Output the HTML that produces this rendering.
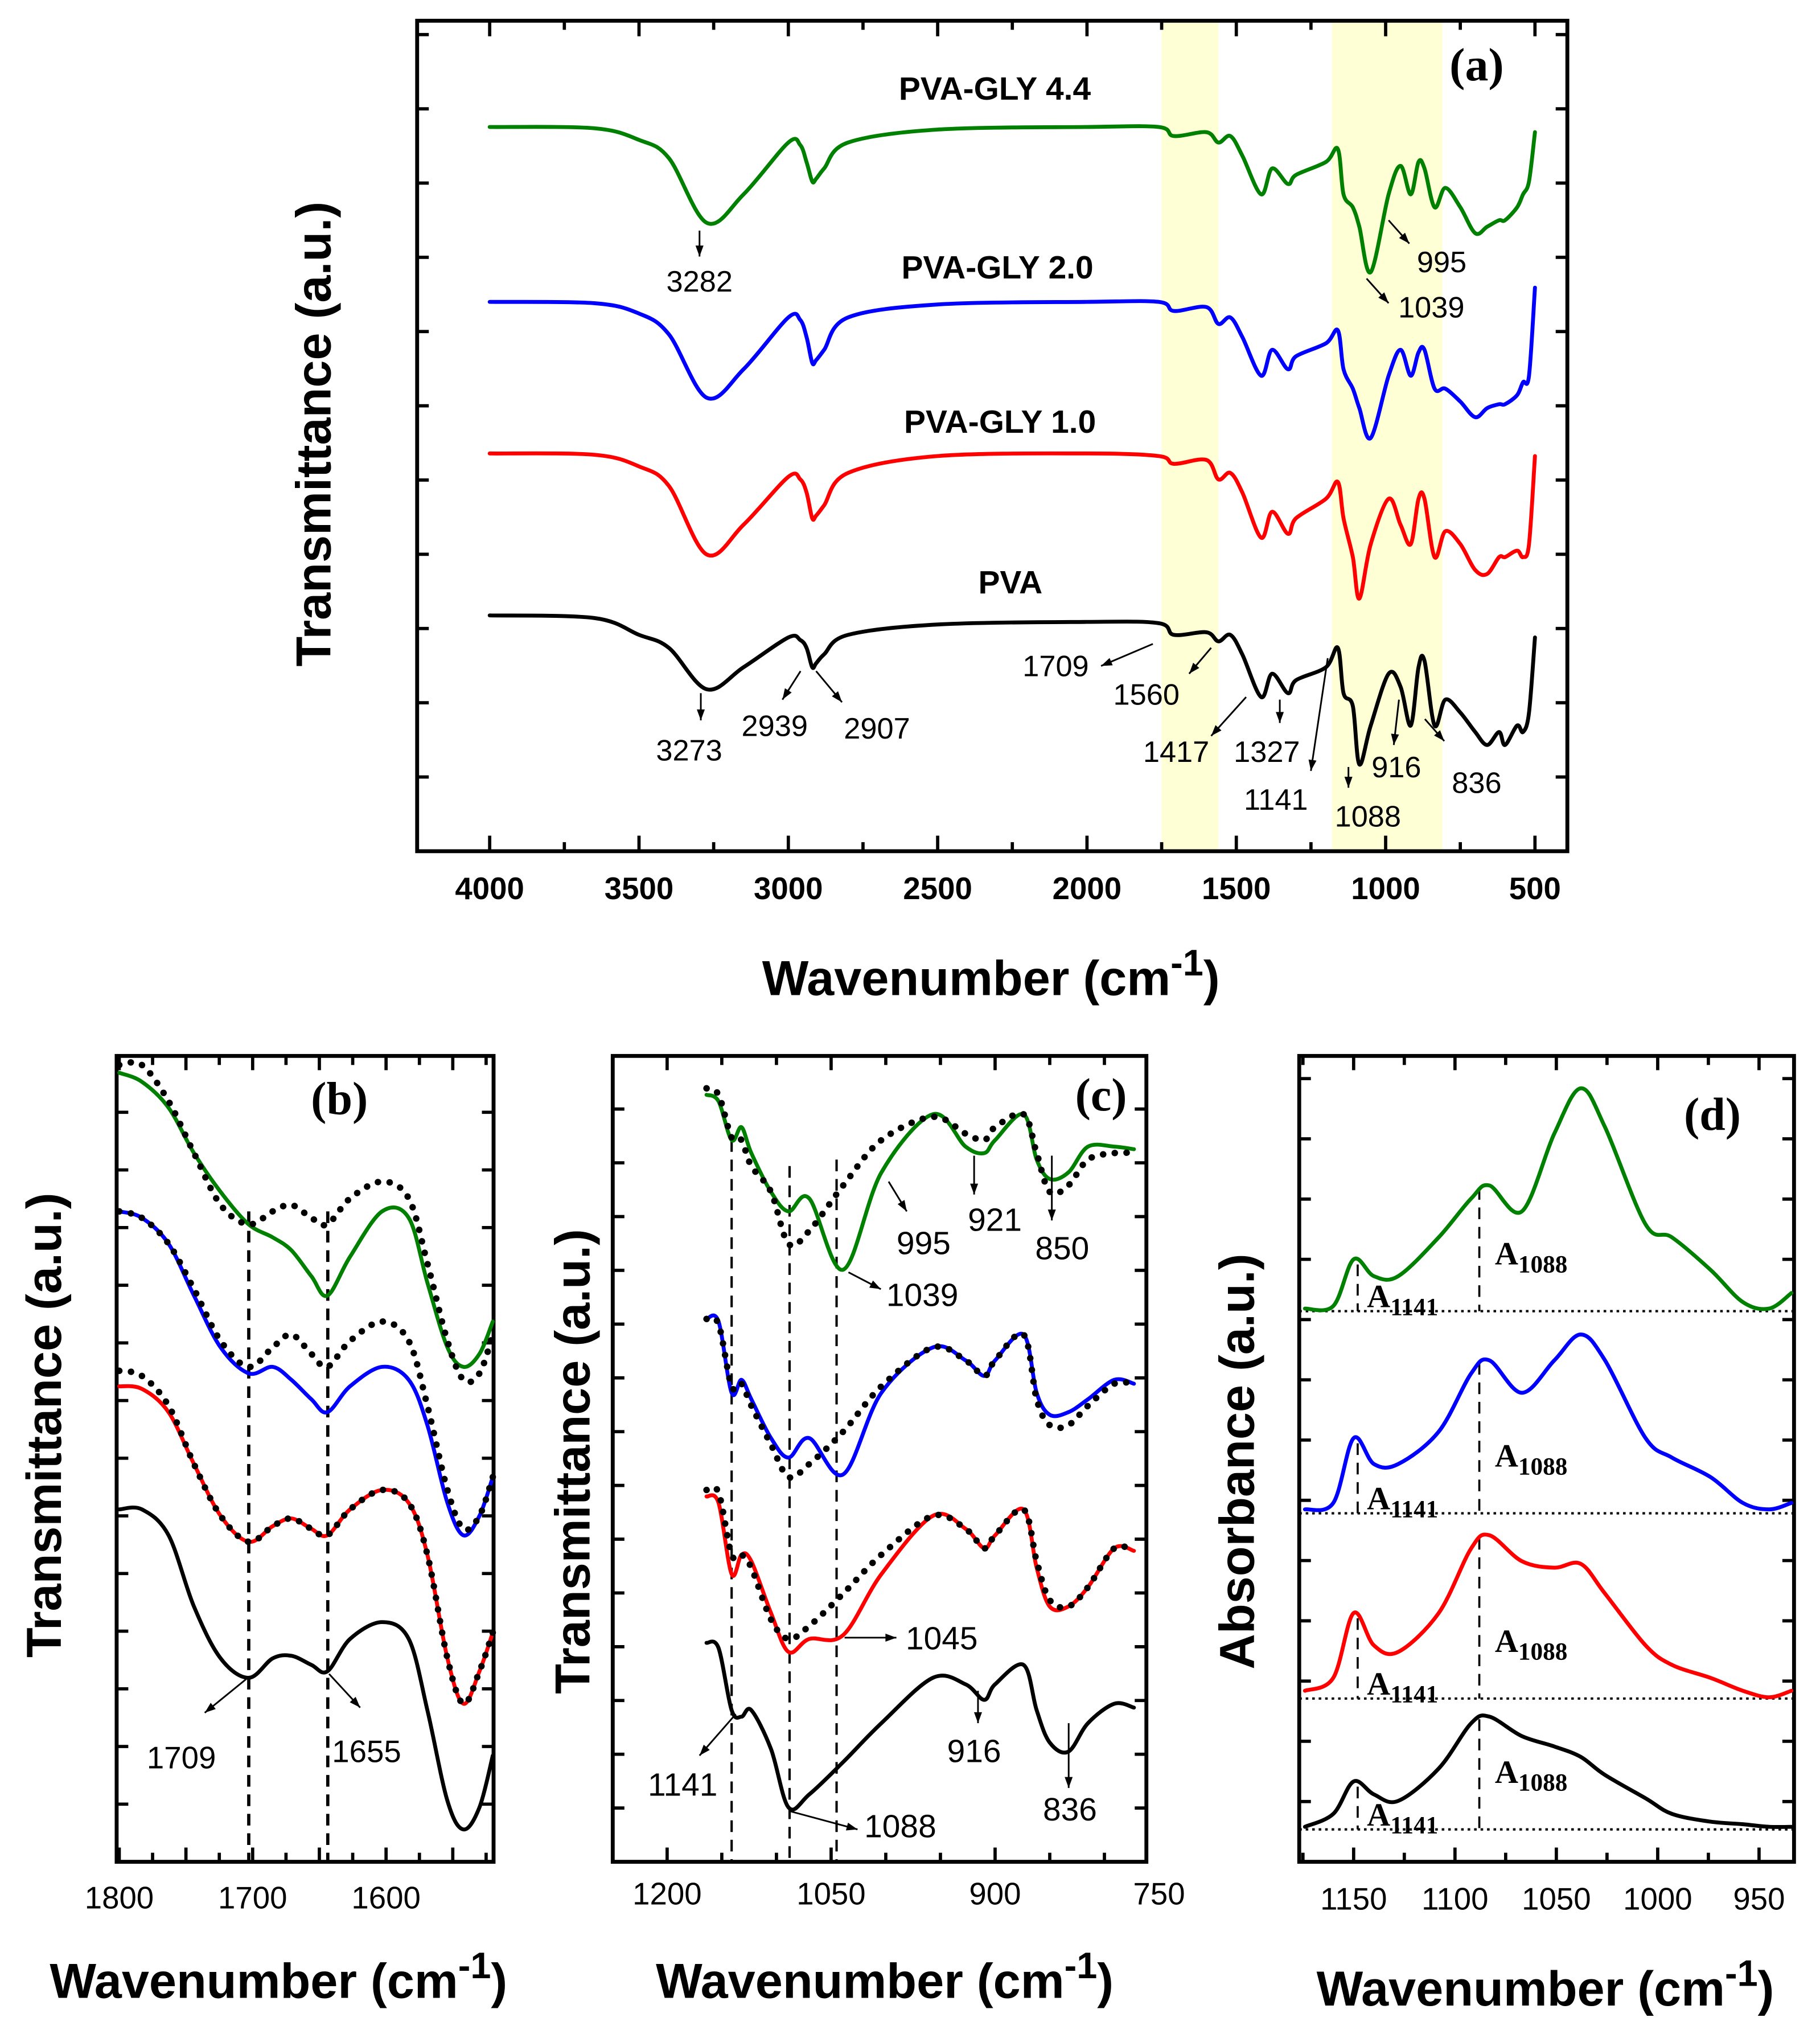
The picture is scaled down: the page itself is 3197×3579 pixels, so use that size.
<!DOCTYPE html>
<html><head><meta charset="utf-8">
<style>
html,body{margin:0;padding:0;background:#fff;}
svg{display:block;}
text{font-family:"Liberation Sans",sans-serif;}
.ser{font-family:"Liberation Serif",serif;}
</style></head>
<body>
<svg id="fig" width="3197" height="3579" viewBox="0 0 1405 1573" xmlns="http://www.w3.org/2000/svg">
<rect width="1405" height="1573" fill="#fff"/>
<g id="pa"></g>
<g id="pb"></g>
<g id="pc"></g>
<g id="pd"></g>
</svg>
<script>
// ---------- Panel (a) data ----------
const aWn = [4000,3650,3500,3400,3273,3150,3000,2960,2939,2920,2907,2880,2800,2500,2000,1760,1709,1600,1560,1520,1480,1417,1380,1327,1300,1200,1160,1141,1110,1088,1050,990,950,916,890,870,836,800,750,700,660,620,600,560,540,520,500];
const aPVA = [22.5,22.3,21.0,20.0,16.8,18.5,20.8,20.6,20.0,18.5,18.8,19.5,21.0,21.8,22.0,21.9,21.0,21.2,20.5,21.0,19.5,16.2,18.0,16.5,17.5,18.5,20.0,16.5,15.5,11.0,14.0,18.0,17.0,14.0,18.5,19.0,14.0,16.0,15.0,13.5,12.5,13.5,12.5,14.0,13.5,15.0,20.8];
const aGLY10 = [35.0,34.9,34.0,32.5,27.2,29.5,33.2,33.0,32.0,30.0,30.2,31.0,33.5,34.8,35.0,34.8,34.2,34.5,33.0,33.5,32.0,28.5,30.5,28.8,30.0,31.5,32.8,30.0,27.0,23.8,28.0,31.5,29.5,28.0,31.5,31.5,27.0,29.0,28.0,26.0,25.7,27.0,27.0,27.5,27.0,28.0,34.8];
const aGLY20 = [46.7,46.6,45.8,44.2,39.3,41.5,45.5,45.3,44.0,42.0,42.2,43.0,45.5,46.5,46.7,46.7,46.0,46.3,45.0,45.5,44.0,41.0,43.0,41.5,42.5,43.5,44.5,41.5,40.0,38.5,36.2,41.0,43.0,41.0,42.8,43.0,40.0,40.0,39.0,37.8,38.5,38.8,38.8,39.5,40.5,41.0,47.8];
const aGLY44 = [60.2,60.1,59.2,57.8,52.8,55.0,59.0,58.8,57.5,56.0,56.2,57.0,59.0,60.0,60.2,60.2,59.5,59.8,59.0,59.5,58.0,55.0,57.0,55.8,56.5,57.5,58.5,55.0,54.0,52.5,49.0,55.0,57.2,55.0,57.5,57.0,54.0,55.5,54.0,52.0,52.5,53.0,53.0,54.0,55.0,56.0,59.8];
const aTicks = [4000,3500,3000,2500,2000,1500,1000,500];

// ---------- Panel (b) data ----------
const bWn = [1800,1783,1763,1744,1724,1703,1685,1671,1656,1644,1627,1603,1583,1569,1554,1542,1530,1520];
const bPVA = [28.5,28.5,26.5,21.0,17.0,15.5,17.0,17.2,16.5,16.0,18.5,19.8,18.5,13.0,6.0,3.8,5.5,9.5];
const bGLY10s = [38.0,37.8,36.0,32.0,28.0,26.0,27.2,27.8,27.0,26.5,28.5,30.0,29.0,25.0,17.0,13.5,16.0,19.0];
const bGLY10d = [39.2,38.8,36.5,32.0,28.0,26.0,27.2,27.8,27.0,26.5,28.5,30.0,29.0,25.0,17.0,13.5,16.0,19.0];
const bGLY20s = [51.5,51.0,49.0,45.0,41.0,39.0,39.5,38.5,37.0,36.0,38.0,39.5,38.5,35.0,29.0,26.5,28.0,31.0];
const bGLY20d = [51.5,51.0,49.0,45.5,41.5,39.5,41.0,42.0,40.5,39.5,41.5,43.0,41.5,36.5,30.0,27.0,28.0,31.0];
const bGLY44s = [62.2,61.5,59.5,56.0,53.0,50.5,49.5,48.5,46.5,45.0,48.0,51.5,51.0,46.0,41.0,39.5,40.5,43.0];
const bGLY44d = [62.8,62.8,60.0,56.0,52.0,50.5,51.5,52.0,51.0,50.5,52.5,53.8,52.5,47.5,41.5,38.5,39.0,42.0];
const bTicks = [1800,1700,1600];

// ---------- Panel (c) data ----------
const cWn = [1164,1153,1141,1132,1123,1105,1089,1070,1039,1004,957,927,910,900,874,862,850,833,815,791,773];
const cPVA = [18.2,17.8,13.0,12.5,13.0,10.0,5.5,6.5,9.0,12.0,15.5,15.0,13.8,15.0,16.5,13.0,10.5,9.8,12.0,13.5,13.2];
const cGLY10s = [29.5,29.0,23.5,25.0,24.5,20.5,17.5,18.5,18.8,23.5,28.0,27.0,25.5,26.5,28.5,24.0,21.0,21.0,22.5,25.5,25.3];
const cGLY10d = [30.0,29.8,25.0,25.0,24.0,20.0,18.5,19.5,22.0,25.0,28.0,27.0,25.5,26.5,28.5,24.5,21.5,21.0,22.5,25.5,25.3];
const cGLY20s = [43.2,43.0,37.5,38.5,37.0,34.0,32.5,34.0,31.2,37.5,41.0,40.0,38.8,40.0,42.0,37.5,35.8,36.0,37.0,38.5,38.2];
const cGLY20d = [43.2,42.8,38.0,38.2,36.5,33.5,31.0,32.0,34.5,38.0,41.0,40.0,38.8,40.0,42.0,37.0,35.0,35.0,36.5,38.2,38.2];
const cGLY44s = [60.5,60.0,57.0,58.0,56.0,53.0,51.5,52.5,47.0,54.5,59.0,56.5,56.0,57.0,59.0,55.5,54.0,54.5,56.5,56.5,56.3];
const cGLY44d = [61.0,60.5,57.2,57.0,55.0,53.0,49.0,50.0,53.5,57.0,58.8,57.5,57.0,58.0,59.0,56.0,53.0,53.5,55.5,56.0,56.0];
const cTicks = [1200,1050,900,750];

// ---------- Panel (d) data ----------
const dWn = [1174,1160,1150,1140,1128,1108,1092,1083,1067,1051,1038,1026,1006,993,974,958,945,934];
const dPVA = [4.0,5.0,7.5,6.5,6.0,8.5,12.0,12.5,11.0,10.2,9.4,8.0,6.2,5.0,4.4,4.2,4.0,4.0];
const dGLY10 = [14.5,15.5,20.5,18.0,17.5,20.5,25.5,26.5,24.5,24.0,24.3,22.0,18.0,16.5,15.5,14.5,14.0,14.5];
const dGLY20 = [28.5,29.0,34.0,32.0,32.0,34.5,39.0,40.0,37.5,40.0,42.0,40.0,34.0,32.5,31.0,29.0,28.5,29.0];
const dGLY44 = [44.0,44.2,47.8,46.5,46.5,49.5,52.5,53.5,51.5,57.5,61.0,58.0,50.5,49.5,47.0,44.5,44.0,45.2];
const dBase = [3.8,13.9,28.2,43.8];
const dTicks = [1150,1100,1050,1000,950];

const NS = "http://www.w3.org/2000/svg";
function mk(parent, tag, attrs, txt){
  const e = document.createElementNS(NS, tag);
  for (const k in attrs) e.setAttribute(k, attrs[k]);
  if (txt !== undefined) e.textContent = txt;
  parent.appendChild(e);
  return e;
}
function pathD(wn, vals, xs, ys){
  const P = wn.map((w,i)=>[xs(w), ys(vals[i])]);
  let d = "M" + P[0][0].toFixed(1) + "," + P[0][1].toFixed(1);
  for (let i=0;i<P.length-1;i++){
    const p0 = P[i-1]||P[i], p1=P[i], p2=P[i+1], p3=P[i+2]||P[i+1];
    const t = 1/6;
    const c1 = [p1[0]+(p2[0]-p0[0])*t, p1[1]+(p2[1]-p0[1])*t];
    const c2 = [p2[0]-(p3[0]-p1[0])*t, p2[1]-(p3[1]-p1[1])*t];
    d += "C"+c1[0].toFixed(1)+","+c1[1].toFixed(1)+" "+c2[0].toFixed(1)+","+c2[1].toFixed(1)+" "+p2[0].toFixed(1)+","+p2[1].toFixed(1);
  }
  return d;
}
function frame(g, x0,y0,x1,y1){
  const r = mk(g,"rect",{x:x0,y:y0,width:x1-x0,height:y1-y0,fill:"none",stroke:"#000","stroke-width":3});
  
  
}
function yTicks(g,x0,x1,y0,y1,step){
  for (let y=y1-step; y>y0+5; y-=step){
    const t1 = mk(g,"line",{x1:x0,y1:y,x2:x0+9,y2:y,stroke:"#000","stroke-width":2.5});
    
    
    const t2 = mk(g,"line",{x1:x1,y1:y,x2:x1-9,y2:y,stroke:"#000","stroke-width":2.5});
    
    
  }
}
function series(g, wn, vals, xs, ys, color, dotted, name){
  const p = mk(g,"path",{d:pathD(wn,vals,xs,ys),fill:"none",stroke:color,"stroke-width":dotted?4:3,"stroke-linejoin":"round","stroke-linecap":"round"});
  if (dotted){ p.setAttribute("stroke-dasharray","0.1 9"); p.setAttribute("stroke-width","5"); }
  
  
  return p;
}
function label(g,x,y,txt,size,opts){
  const o = Object.assign({x:x,y:y,"font-size":size,"text-anchor":"middle",fill:"#000"},opts||{});
  const t = mk(g,"text",o,txt);
  
  
  return t;
}
function arrow(g,x1,y1,x2,y2){
  const l = mk(g,"line",{x1:x1,y1:y1,x2:x2,y2:y2,stroke:"#000","stroke-width":1.3});
  
  
  const a = Math.atan2(y2-y1,x2-x1), s=9;
  const p = mk(g,"polygon",{points:`${x2},${y2} ${x2-s*Math.cos(a-0.35)},${y2-s*Math.sin(a-0.35)} ${x2-s*Math.cos(a+0.35)},${y2-s*Math.sin(a+0.35)}`,fill:"#000"});
  
  
}
function xTitle(g,cx,y,size){
  const t = mk(g,"text",{x:cx,y:y,"font-size":size,"font-weight":"bold","text-anchor":"middle"});
  
  
  t.appendChild(document.createTextNode("Wavenumber (cm"));
  mk(t,"tspan",{dy:-size*0.4,"font-size":size*0.75},"-1");
  mk(t,"tspan",{dy:size*0.4},")");
}
function yTitle(g,x,cy,size,txt){
  const t = mk(g,"text",{x:x,y:cy,"font-size":size,"font-weight":"bold","text-anchor":"middle",transform:`rotate(-90 ${x} ${cy})`},txt);
  
  
}
function dashV(g,x,y0,y1,w){
  const l = mk(g,"line",{x1:x,y1:y0,x2:x,y2:y1,stroke:"#000","stroke-width":w||1.8,"stroke-dasharray":"9 6"});
  
  
}

// ===== Panel A =====
(function(){
  const g = document.getElementById("pa");
  const X0=322,Y0=16,X1=1210,Y1=657;
  const xs = w => 378 + (4000-w)*(1185-378)/3500;
  const ys = v => 700 - v*10;
  const b1 = mk(g,"rect",{x:xs(1750),y:Y0,width:xs(1560)-xs(1750),height:Y1-Y0,fill:"#ffffd6"});
  
  
  const b2 = mk(g,"rect",{x:xs(1180),y:Y0,width:xs(810)-xs(1180),height:Y1-Y0,fill:"#ffffd6"});
  
  
  frame(g,X0,Y0,X1,Y1);
  yTicks(g,X0,X1,Y0,Y1,57.3);
  for (let w=4000; w>=500; w-=250){
    const major = w%500===0;
    const t = mk(g,"line",{x1:xs(w),y1:Y1,x2:xs(w),y2:Y1-(major?12:7),stroke:"#000","stroke-width":2.5});
     
    const t2 = mk(g,"line",{x1:xs(w),y1:Y0,x2:xs(w),y2:Y0+(major?12:7),stroke:"#000","stroke-width":2.5});
     
  }
  aTicks.forEach(w=>{ const t=label(g,xs(w),694,String(w),24,{"font-weight":"bold"});  });
  series(g,aWn,aPVA,xs,ys,"#000",false,"pva-line");
  series(g,aWn,aGLY10,xs,ys,"#ff0000",false,"pva-gly-1.0-line");
  series(g,aWn,aGLY20,xs,ys,"#0000ff",false,"pva-gly-2.0-line");
  series(g,aWn,aGLY44,xs,ys,"#008000",false,"pva-gly-4.4-line");
  label(g,768,77,"PVA-GLY 4.4",25,{"font-weight":"bold"});
  label(g,770,215,"PVA-GLY 2.0",25,{"font-weight":"bold"});
  label(g,772,334,"PVA-GLY 1.0",25,{"font-weight":"bold"});
  label(g,780,458,"PVA",25,{"font-weight":"bold"});
  const pl = label(g,1140,62,"(a)",36,{"font-weight":"bold","class":"ser"}); 
  const L=[[540,225,"3282"],[532,587,"3273"],[598,568,"2939"],[677,570,"2907"],[815,522,"1709"],[885,544,"1560"],[908,588,"1417"],[978,588,"1327"],[985,625,"1141"],[1056,638,"1088"],[1078,600,"916"],[1140,612,"836"],[1113,210,"995"],[1105,245,"1039"]];
  L.forEach(l=>label(g,l[0],l[1],l[2],23));
  arrow(g,540,178,540,198); arrow(g,541,535,541,556);
  arrow(g,618,518,604,540); arrow(g,630,518,650,542);
  arrow(g,890,497,850,514); arrow(g,935,500,918,520);
  arrow(g,962,538,935,568); arrow(g,988,540,988,558);
  arrow(g,1025,508,1012,595); arrow(g,1041,592,1041,608);
  arrow(g,1080,540,1076,575); arrow(g,1100,555,1115,572);
  arrow(g,1072,170,1088,188); arrow(g,1055,215,1072,234);
  xTitle(g,765,768,38);
  yTitle(g,255,335,38,"Transmittance (a.u.)");
})();

// ===== Panel B =====
(function(){
  const g = document.getElementById("pb");
  const X0=90,Y0=815,X1=381,Y1=1437;
  const xs = w => 92 + (1800-w)*1.03;
  const ys = v => 1450 - v*10;
  frame(g,X0,Y0,X1,Y1);
  yTicks(g,X0,X1,Y0,Y1,44.5);
  [1800,1775,1750,1725,1700,1675,1650,1625,1600,1575,1550,1525].forEach(w=>{
    const x=xs(w); if(x<X0+2||x>X1-2) return;
    const maj = w%50===0;
    const t=mk(g,"line",{x1:x,y1:Y1,x2:x,y2:Y1-(maj?11:7),stroke:"#000","stroke-width":2.5});
     
    const t2=mk(g,"line",{x1:x,y1:Y0,x2:x,y2:Y0+(maj?11:7),stroke:"#000","stroke-width":2.5});
     
  });
  bTicks.forEach(w=>{ const t=label(g,xs(w),1473,String(w),24);  });
  dashV(g,192,935,1437,2.5); dashV(g,253,935,1437,2.5);
  series(g,bWn,bPVA,xs,ys,"#000",false,"pva-line");
  series(g,bWn,bGLY10s,xs,ys,"#ff0000",false,"pva-gly-1.0-line");
  series(g,bWn,bGLY10d,xs,ys,"#000",true,"pva-gly-1.0-reference-dotted");
  series(g,bWn,bGLY20s,xs,ys,"#0000ff",false,"pva-gly-2.0-line");
  series(g,bWn,bGLY20d,xs,ys,"#000",true,"pva-gly-2.0-reference-dotted");
  series(g,bWn,bGLY44s,xs,ys,"#008000",false,"pva-gly-4.4-line");
  series(g,bWn,bGLY44d,xs,ys,"#000",true,"pva-gly-4.4-reference-dotted");
  const pl = label(g,262,860,"(b)",36,{"font-weight":"bold","class":"ser"}); 
  label(g,140,1365,"1709",24); label(g,283,1360,"1655",24);
  arrow(g,190,1296,158,1322); arrow(g,254,1292,278,1318);
  xTitle(g,215,1542,38);
  yTitle(g,47,1100,38,"Transmittance  (a.u.)");
})();

// ===== Panel C =====
(function(){
  const g = document.getElementById("pc");
  const X0=473,Y0=815,X1=885,Y1=1437;
  const xs = w => 515 + (1200-w)*0.844;
  const ys = v => 1450 - v*10;
  frame(g,X0,Y0,X1,Y1);
  yTicks(g,X0,X1,Y0,Y1,41.5);
  for (let w=1200; w>=750; w-=50){
    const x=xs(w); if(x<X0+2||x>X1-2) continue;
    const maj = w%150===0;
    const t=mk(g,"line",{x1:x,y1:Y1,x2:x,y2:Y1-(maj?11:7),stroke:"#000","stroke-width":2.5});
     
    const t2=mk(g,"line",{x1:x,y1:Y0,x2:x,y2:Y0+(maj?11:7),stroke:"#000","stroke-width":2.5});
     
  }
  cTicks.forEach(w=>{ const t=label(g,xs(w),1470,String(w),24);  });
  dashV(g,xs(1141),880,1437); dashV(g,xs(1088),900,1437); dashV(g,xs(1045),895,1437);
  series(g,cWn,cPVA,xs,ys,"#000",false,"pva-line");
  series(g,cWn,cGLY10s,xs,ys,"#ff0000",false,"pva-gly-1.0-line");
  series(g,cWn,cGLY10d,xs,ys,"#000",true,"pva-gly-1.0-reference-dotted");
  series(g,cWn,cGLY20s,xs,ys,"#0000ff",false,"pva-gly-2.0-line");
  series(g,cWn,cGLY20d,xs,ys,"#000",true,"pva-gly-2.0-reference-dotted");
  series(g,cWn,cGLY44s,xs,ys,"#008000",false,"pva-gly-4.4-line");
  series(g,cWn,cGLY44d,xs,ys,"#000",true,"pva-gly-4.4-reference-dotted");
  const pl = label(g,850,857,"(c)",36,{"font-weight":"bold","class":"ser"}); 
  const L=[[713,968,"995"],[768,950,"921"],[820,972,"850"],[712,1008,"1039"],[727,1273,"1045"],[527,1386,"1141"],[752,1360,"916"],[826,1405,"836"],[695,1418,"1088"]];
  L.forEach(l=>label(g,l[0],l[1],l[2],25));
  arrow(g,686,912,700,935); arrow(g,752,892,752,922); arrow(g,812,892,812,942);
  arrow(g,655,982,680,995); arrow(g,652,1264,692,1264);
  arrow(g,568,1323,540,1355); arrow(g,755,1305,755,1330); arrow(g,825,1330,825,1380);
  arrow(g,610,1398,662,1412);
  xTitle(g,683,1542,38);
  yTitle(g,455,1128,38,"Transmittance (a.u.)");
})();

// ===== Panel D =====
(function(){
  const g = document.getElementById("pd");
  const X0=1003,Y0=815,X1=1385,Y1=1437;
  const xs = w => 1045 + (1150-w)*1.565;
  const ys = v => 1450 - v*10;
  frame(g,X0,Y0,X1,Y1);
  yTicks(g,X0,X1,Y0,Y1,46.5);
  for (let w=1175; w>=925; w-=25){
    const x=xs(w); if(x<X0+2||x>X1-2) continue;
    const maj = w%50===0;
    const t=mk(g,"line",{x1:x,y1:Y1,x2:x,y2:Y1-(maj?11:7),stroke:"#000","stroke-width":2.5});
     
    const t2=mk(g,"line",{x1:x,y1:Y0,x2:x,y2:Y0+(maj?11:7),stroke:"#000","stroke-width":2.5});
     
  }
  dTicks.forEach(w=>{ const t=label(g,xs(w),1474,String(w),24);  });
  const sets=[[dPVA,"#000","pva-line"],[dGLY10,"#ff0000","pva-gly-1.0-line"],[dGLY20,"#0000ff","pva-gly-2.0-line"],[dGLY44,"#008000","pva-gly-4.4-line"]];
  sets.forEach((s,i)=>{
    const by = ys(dBase[i]);
    const bl = mk(g,"line",{x1:X0,y1:by,x2:X1,y2:by,stroke:"#000","stroke-width":1.8,"stroke-dasharray":"2 3"});
     
    dashV(g,xs(1148),ys(s[0][2])+4,by,1.6);
    dashV(g,xs(1088),ys(s[0][7])+2,by,1.6);
    series(g,dWn,s[0],xs,ys,s[1],false,s[2]);
    const t1 = mk(g,"text",{x:xs(1146)+4,y:by-3,"font-size":25,"font-weight":"bold","class":"ser"});
     
    t1.appendChild(document.createTextNode("A")); mk(t1,"tspan",{dy:6,"font-size":19},"1141");
    const t2 = mk(g,"text",{x:xs(1088)+12,y:by-36,"font-size":25,"font-weight":"bold","class":"ser"});
     
    t2.appendChild(document.createTextNode("A")); mk(t2,"tspan",{dy:6,"font-size":19},"1088");
  });
  const pl = label(g,1322,872,"(d)",36,{"font-weight":"bold","class":"ser"}); 
  xTitle(g,1193,1548,38);
  yTitle(g,968,1128,38,"Absorbance (a.u.)");
})();
</script>
</body></html>
